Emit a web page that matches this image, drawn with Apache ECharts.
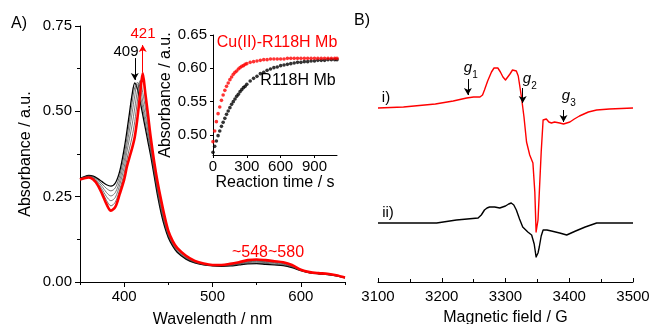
<!DOCTYPE html>
<html>
<head>
<meta charset="utf-8">
<script src="https://cdn.jsdelivr.net/npm/echarts@6/dist/echarts.min.js"></script>
<style>html,body{margin:0;padding:0;background:#fff}#c{width:649px;height:324px}</style>
</head>
<body>
<div id="c"></div>
<script>
// ---- Panel A: UV-vis spectra (wavelength nm, absorbance a.u.)
const wavelength = [350,355,360,365,370,375,380,385,390,395,400,403,406,409,412,415,418,421,424,427,430,434,438,442,446,450,455,460,470,480,490,500,510,520,530,540,550,560,570,580,590,600,610,620,630,640,650];
const absStart = [.303,.309,.312,.310,.303,.294,.285,.281,.290,.325,.390,.440,.495,.550,.583,.565,.530,.490,.450,.410,.370,.310,.250,.200,.160,.130,.105,.087,.067,.056,.050,.047,.046,.047,.050,.053,.054,.052,.050,.048,.042,.033,.027,.024,.022,.018,.012];
const absMid1 = [.302,.308,.311,.308,.299,.287,.274,.267,.276,.312,.372,.420,.470,.525,.570,.578,.550,.510,.465,.425,.380,.318,.258,.207,.166,.134,.108,.090,.069,.057,.051,.048,.047,.048,.052,.055,.056,.055,.052,.050,.044,.034,.027,.024,.022,.018,.012];
const absMid2 = [.302,.307,.310,.306,.295,.280,.262,.252,.262,.298,.354,.400,.445,.495,.545,.585,.570,.530,.485,.440,.390,.326,.266,.215,.172,.138,.111,.092,.071,.058,.052,.048,.048,.049,.053,.057,.059,.057,.055,.052,.045,.034,.028,.025,.023,.019,.012];
const absMid3 = [.301,.306,.308,.304,.291,.272,.250,.238,.248,.285,.336,.380,.420,.460,.510,.560,.590,.555,.510,.455,.400,.334,.274,.222,.178,.142,.114,.095,.073,.060,.052,.049,.048,.050,.055,.059,.061,.059,.057,.054,.047,.035,.028,.025,.023,.019,.013];
const absMid4 = [.301,.305,.307,.302,.287,.265,.239,.223,.234,.271,.318,.358,.392,.425,.470,.530,.585,.598,.535,.475,.412,.343,.282,.230,.184,.146,.117,.097,.075,.061,.053,.049,.049,.052,.056,.061,.063,.061,.059,.056,.048,.035,.029,.026,.024,.020,.013];
const absEnd = [.300,.304,.306,.300,.284,.258,.228,.209,.220,.258,.300,.337,.365,.392,.425,.480,.548,.612,.552,.490,.425,.352,.290,.238,.190,.150,.120,.100,.077,.062,.054,.050,.050,.053,.058,.064,.066,.064,.061,.058,.050,.036,.029,.026,.024,.020,.013];
const wlLabels = [400,500,600];
const wlMinor = [350,450,550,650];

// ---- Inset: kinetics (time s, absorbance at 421 nm)
const timeS = [0,15,30,45,60,75,90,105,120,135,150,165,180,195,210,225,240,255,270,285,300,330,360,390,420,450,480,510,540,570,600,630,660,690,720,750,780,810,840,870,900,930,960,990,1020,1050,1080,1100];
const kinCu = [.490,.506,.520,.532,.542,.552,.560,.567,.573,.578,.583,.587,.591,.594,.596,.599,.601,.603,.604,.606,.607,.609,.610,.611,.612,.613,.613,.614,.614,.614,.614,.614,.615,.615,.615,.615,.615,.615,.615,.615,.615,.615,.615,.615,.615,.615,.615,.615];
const kinApo = [.474,.483,.491,.499,.506,.513,.519,.525,.531,.536,.541,.546,.550,.554,.558,.561,.565,.568,.571,.573,.576,.581,.585,.588,.592,.594,.597,.599,.601,.602,.604,.605,.606,.607,.608,.609,.609,.610,.610,.611,.611,.612,.612,.612,.613,.613,.613,.613];
const insetYTicks = [0.50,0.55,0.60,0.65];
const insetXTicks = [0,300,600,900];

// ---- Panel B: EPR spectra (field G, signal a.u., offset)
const fieldI = [3100,3140,3190,3218,3239,3250,3260,3264,3267,3272,3278,3282,3285,3288,3292,3296,3300,3303,3307,3311,3314,3317,3320,3325,3329,3333,3338,3343,3346,3348,3351,3353,3356,3359,3364,3368,3372,3377,3385,3391,3396,3401,3408,3416,3430,3443,3463,3500];
const eprI = [174,175,178,181,184,185,185,187,192,201,210,214,216,214,210,205,202,204,208,212,213,211,206,185,165,140,127,119,90,50,62,89,130,162,163,160,159,160,159,158,159,160,163,166,170,172,173,174];
const fieldII = [3100,3150,3192,3223,3257,3262,3267,3271,3275,3283,3291,3300,3305,3309,3313,3317,3322,3327,3335,3341,3345,3348,3351,3353,3356,3359,3365,3372,3385,3396,3410,3425,3443,3470,3500];
const eprII = [59,59,59,62,64,67,72,74,75,75,74,76,78,79,77,72,63,55,50,47,38,25,29,35,46,52,52,51,49,47,51,55,59,59,59];

const F = '"Liberation Sans", Arial, sans-serif';
const RED = '#ff0000';
const pairs = (xs, ys) => xs.map((x, i) => [x, ys[i]]);

const chart = echarts.init(document.getElementById('c'), null, {renderer: 'canvas'});

const axisCommon = {
  axisLine: {show: true, lineStyle: {color: '#000', width: 1}},
  splitLine: {show: false},
  axisLabel: {color: '#000', fontFamily: F, fontSize: 15},
  nameTextStyle: {color: '#000', fontFamily: F, fontSize: 16}
};

function specSeries(data, color, width, z, extra) {
  return Object.assign({
    type: 'line', xAxisIndex: 0, yAxisIndex: 0, data: pairs(wavelength, data),
    showSymbol: false, smooth: 0.3, lineStyle: {color: color, width: width}, z: z, silent: true
  }, extra || {});
}

function arrowLine(x, y1, y2, color) {
  return {
    silent: true, symbol: ['none', 'arrow'], symbolSize: [6, 7],
    label: {show: false}, lineStyle: {color: color, width: 1, type: 'solid'},
    data: [[{coord: [x, y1]}, {coord: [x, y2]}]]
  };
}

function txt(text, x, y, size, color, extra) {
  return {
    type: 'text', x: x, y: y, silent: true, z: 100,
    style: Object.assign({text: text, font: (extra && extra.italic ? 'italic ' : '') + size + 'px ' + F,
      fill: color, align: 'center', verticalAlign: 'middle', textAlign: 'center', textVerticalAlign: 'middle'})
  };
}

const option = {
  backgroundColor: '#fff',
  animation: false,
  grid: [
    {left: 80, right: 304, top: 26, bottom: 42, outerBoundsMode: 'none', containLabel: false},
    {left: 213, right: 312, top: 35, bottom: 169, outerBoundsMode: 'none', containLabel: false},
    {left: 378, right: 16, top: 26, bottom: 42, outerBoundsMode: 'none', containLabel: false}
  ],
  xAxis: [
    Object.assign({}, axisCommon, {
      gridIndex: 0, type: 'value', min: 350, max: 650,
      name: 'Wavelength / nm', nameLocation: 'middle', nameGap: 30,
      axisTick: {show: true, inside: false, length: 5, customValues: wlLabels, lineStyle: {color: '#000'}},
      axisLabel: Object.assign({}, axisCommon.axisLabel, {margin: 7, customValues: wlLabels})
    }),
    {
      gridIndex: 0, type: 'value', min: 350, max: 650, position: 'bottom',
      axisLine: {show: false}, splitLine: {show: false}, axisLabel: {show: false},
      axisTick: {show: true, inside: false, length: 3, customValues: wlMinor, lineStyle: {color: '#000'}}
    },
    Object.assign({}, axisCommon, {
      gridIndex: 1, type: 'value', min: 0, max: 1100,
      name: 'Reaction time / s', nameLocation: 'middle', nameGap: 16,
      axisTick: {show: true, inside: false, length: 3, customValues: insetXTicks, lineStyle: {color: '#000'}},
      axisLabel: Object.assign({}, axisCommon.axisLabel, {margin: 4, customValues: insetXTicks})
    }),
    Object.assign({}, axisCommon, {
      gridIndex: 2, type: 'value', min: 3100, max: 3500, interval: 100,
      name: 'Magnetic field / G', nameLocation: 'middle', nameGap: 28,
      axisTick: {show: true, inside: true, length: 4, lineStyle: {color: '#000'}},
      minorTick: {show: true, splitNumber: 2, length: 3, lineStyle: {color: '#000'}},
      axisLabel: Object.assign({}, axisCommon.axisLabel, {margin: 7, formatter: v => String(v)})
    })
  ],
  yAxis: [
    Object.assign({}, axisCommon, {
      gridIndex: 0, type: 'value', min: 0, max: 0.75, interval: 0.25,
      name: 'Absorbance / a.u.', nameLocation: 'middle', nameGap: 46,
      axisTick: {show: true, inside: false, length: 5, lineStyle: {color: '#000'}},
      minorTick: {show: true, splitNumber: 2, length: 3, lineStyle: {color: '#000'}},
      axisLabel: Object.assign({}, axisCommon.axisLabel, {margin: 8, formatter: v => v.toFixed(2)})
    }),
    Object.assign({}, axisCommon, {
      gridIndex: 1, type: 'value', min: 0.47, max: 0.65,
      name: 'Absorbance / a.u.', nameLocation: 'middle', nameGap: 36,
      axisTick: {show: true, inside: false, length: 3, customValues: insetYTicks, lineStyle: {color: '#000'}},
      axisLabel: Object.assign({}, axisCommon.axisLabel, {margin: 6, customValues: insetYTicks, formatter: v => v.toFixed(2)})
    }),
    {
      gridIndex: 2, type: 'value', min: 0, max: 256, show: false,
      axisLine: {show: false}, axisTick: {show: false}, axisLabel: {show: false}, splitLine: {show: false}
    }
  ],
  series: [
    specSeries(absStart, '#000', 1.3, 2, {markLine: arrowLine(412, 0.656, 0.592, '#000')}),
    specSeries(absMid1, '#333', 0.7, 2),
    specSeries(absMid2, '#444', 0.7, 2),
    specSeries(absMid3, '#444', 0.7, 2),
    specSeries(absMid4, '#4a2a2a', 0.7, 2),
    specSeries(absEnd, RED, 2.6, 3, {markLine: arrowLine(421, 0.615, 0.694, RED)}),
    {
      type: 'scatter', xAxisIndex: 2, yAxisIndex: 1, data: pairs(timeS, kinApo),
      symbol: 'circle', symbolSize: 3.6, itemStyle: {color: '#000'}, silent: true, z: 4
    },
    {
      type: 'scatter', xAxisIndex: 2, yAxisIndex: 1, data: pairs(timeS, kinCu),
      symbol: 'circle', symbolSize: 3.6, itemStyle: {color: RED}, silent: true, z: 5
    },
    {
      type: 'line', xAxisIndex: 3, yAxisIndex: 2, data: pairs(fieldII, eprII),
      showSymbol: false, smooth: false, lineStyle: {color: '#000', width: 1.4, join: 'round'}, silent: true, z: 2
    },
    {
      type: 'line', xAxisIndex: 3, yAxisIndex: 2, data: pairs(fieldI, eprI),
      showSymbol: false, smooth: false, lineStyle: {color: RED, width: 1.4, join: 'round'}, silent: true, z: 3,
      markLine: {
        silent: true, symbol: ['none', 'arrow'], symbolSize: [6, 7], label: {show: false},
        lineStyle: {color: '#000', width: 1, type: 'solid'},
        data: [
          [{coord: [3241, 203]}, {coord: [3241, 187]}],
          [{coord: [3327, 194]}, {coord: [3327, 179]}],
          [{coord: [3391, 172]}, {coord: [3391, 160]}]
        ]
      }
    }
  ],
  graphic: [
    txt('A)', 19, 24, 16, '#000'),
    txt('B)', 362, 21, 16, '#000'),
    txt('409', 126, 52, 15, '#000'),
    txt('421', 143, 34, 15, RED),
    txt('~548~580', 268, 253, 16, RED),
    txt('Cu(II)-R118H Mb', 277, 43, 16, RED),
    txt('R118H Mb', 298, 81, 16, '#000'),
    txt('i)', 386, 98, 15, '#000'),
    txt('ii)', 388, 213, 15, '#000'),
    txt('g', 468, 68, 15, '#000', {italic: true}),
    txt('1', 475, 75, 10, '#000'),
    txt('g', 527, 79, 15, '#000', {italic: true}),
    txt('2', 534, 86, 10, '#000'),
    txt('g', 566, 96, 15, '#000', {italic: true}),
    txt('3', 573, 103, 10, '#000')
  ]
};
chart.setOption(option);
</script>
</body>
</html>
